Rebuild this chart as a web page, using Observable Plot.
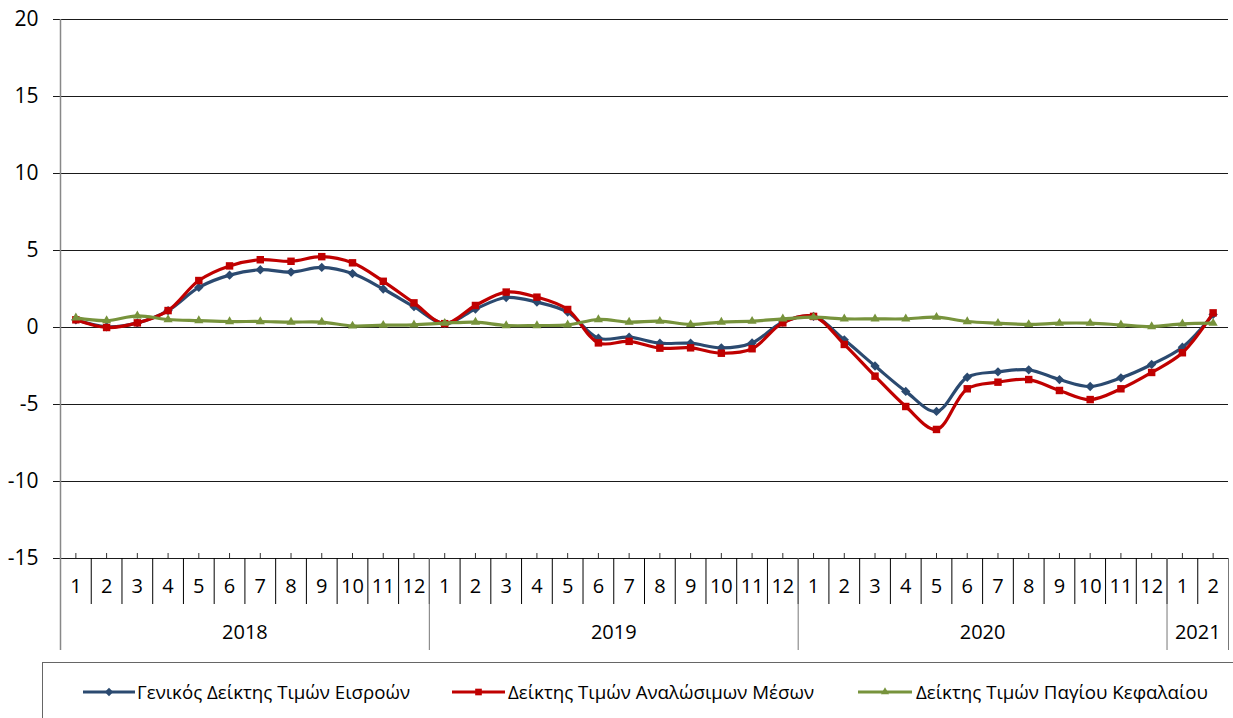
<!DOCTYPE html>
<html>
<head>
<meta charset="utf-8">
<script src="https://cdn.jsdelivr.net/npm/d3@7"></script>
<script src="https://cdn.jsdelivr.net/npm/@observablehq/plot@0.6"></script>
<style>
  body { margin: 0; background: white; font-family: "Open Sans", sans-serif; }
  #chart svg { display: block; }
  #legend { display: block; }
</style>
</head>
<body>
<div id="chart"></div>
<svg id="legend" width="1233" height="58"></svg>
<script>
// ---- data ----
const years = ["2018", "2019", "2020", "2021"];
const monthsPerYear = [12, 12, 12, 2];
const yTicks = [-15, -10, -5, 0, 5, 10, 15, 20];

const seriesNames = [
  "Γενικός Δείκτης Τιμών Εισροών",
  "Δείκτης Τιμών Αναλώσιμων Μέσων",
  "Δείκτης Τιμών Παγίου Κεφαλαίου"
];

const general = [
  0.5, 0.05, 0.3, 1.1, 2.6, 3.4, 3.75, 3.6, 3.9, 3.5, 2.5, 1.35,
  0.25, 1.2, 1.95, 1.65, 1.0, -0.7, -0.63, -1.02, -1.02, -1.32, -1.0, 0.35,
  0.72, -0.8, -2.5, -4.15, -5.45, -3.23, -2.88, -2.75, -3.38, -3.83, -3.27, -2.4,
  -1.28, 0.85
];
const consumables = [
  0.5, 0.0, 0.3, 1.1, 3.05, 4.0, 4.4, 4.3, 4.6, 4.2, 3.0, 1.6,
  0.25, 1.43, 2.3, 1.97, 1.17, -1.0, -0.9, -1.34, -1.32, -1.67, -1.38, 0.3,
  0.72, -1.1, -3.16, -5.13, -6.62, -3.98, -3.55, -3.38, -4.09, -4.68, -3.98, -2.92,
  -1.64, 0.95
];
const capital = [
  0.63, 0.45, 0.76, 0.52, 0.45, 0.39, 0.39, 0.35, 0.35, 0.1, 0.15, 0.17,
  0.28, 0.35, 0.13, 0.13, 0.17, 0.52, 0.35, 0.41, 0.2, 0.35, 0.41, 0.56,
  0.67, 0.56, 0.56, 0.56, 0.67, 0.39, 0.28, 0.2, 0.28, 0.28, 0.17, 0.06,
  0.24, 0.28
];

const colors = ["#2B4A70", "#C00000", "#77933C"];
const symbols = ["diamond2", "square", "triangle"];
const radii = [4.2, 4.2, 3.4];

// ---- derived tables ----
const rows = [];
const yearSpans = [];
years.forEach((yr, k) => {
  const start = rows.length;
  for (let m = 1; m <= monthsPerYear[k]; m++) {
    const i = rows.length;
    rows.push({i, month: String(m), year: yr, general: general[i], consumables: consumables[i], capital: capital[i]});
  }
  yearSpans.push({year: yr, first: start, last: rows.length - 1});
});
const idx = rows.map(d => d.i);
const monthBoundaries = d3.range(0, rows.length + 1).map(i => i - 0.5);
const yearBoundaries = [...yearSpans.map(s => s.first - 0.5), rows.length - 0.5];
const yearCenters = yearSpans.map(s => ({year: s.year, x: (s.first + s.last) / 2}));

const keys = ["general", "consumables", "capital"];
const seriesMarks = keys.flatMap((k, s) => [
  Plot.line(rows, {x: "i", y: k, stroke: colors[s], strokeWidth: 3.2, curve: "catmull-rom"}),
  Plot.dot(rows, {x: "i", y: k, symbol: symbols[s], r: radii[s], fill: colors[s], stroke: "none"})
]);

const chart = Plot.plot({
  width: 1233,
  height: 660,
  marginLeft: 60,
  marginRight: 5,
  marginTop: 19,
  marginBottom: 102,
  style: {fontFamily: "Open Sans", background: "white", color: "#000"},
  x: {domain: [-0.5, rows.length - 0.5], axis: null},
  y: {domain: [-15, 20]},
  marks: [
    Plot.ruleY(yTicks, {stroke: "#1a1a1a", strokeWidth: 1, insetLeft: -7}),
    Plot.ruleX(idx, {stroke: "#333", insetTop: 534}),
    Plot.ruleX(monthBoundaries, {stroke: "#000", insetTop: 539, insetBottom: -46}),
    Plot.ruleX(yearBoundaries, {stroke: "#777", insetTop: 539, insetBottom: -92}),
    Plot.ruleX([-0.5], {stroke: "#888", strokeWidth: 1.5, insetBottom: -92}),
    Plot.axisY(yTicks, {tickSize: 0, tickPadding: 22, fontSize: 21, label: null, tickFormat: d => String(d)}),
    Plot.text(rows, {x: "i", text: "month", frameAnchor: "bottom", dy: 34, fontSize: 20, fill: "#000"}),
    Plot.text(yearCenters, {x: "x", text: "year", frameAnchor: "bottom", dy: 80, fontSize: 20, fill: "#000"}),
    ...seriesMarks
  ]
});
document.getElementById("chart").appendChild(chart);

// ---- legend ----
const legend = d3.select("#legend");
legend.append("rect").attr("x", 42.5).attr("y", 2.5).attr("width", 1300).attr("height", 100)
  .attr("fill", "white").attr("stroke", "#666").attr("stroke-width", 1);
const items = [
  {x0: 83, x1: 135, tx: 137, tl: 273},
  {x0: 452, x1: 505, tx: 508, tl: 306},
  {x0: 858, x1: 912, tx: 916, tl: 292}
];
items.forEach((it, s) => {
  const g = legend.append("g");
  g.append("line").attr("x1", it.x0).attr("x2", it.x1).attr("y1", 32).attr("y2", 32)
    .attr("stroke", colors[s]).attr("stroke-width", 3);
  const sym = {diamond2: d3.symbolDiamond2, square: d3.symbolSquare, triangle: d3.symbolTriangle}[symbols[s]];
  g.append("path").attr("d", d3.symbol(sym, Math.PI * radii[s] * radii[s] * 0.8)())
    .attr("transform", `translate(${(it.x0 + it.x1) / 2},32)`).attr("fill", colors[s]);
  g.append("text").attr("x", it.tx).attr("y", 39).attr("font-size", 18)
    .attr("font-family", "Open Sans").attr("fill", "#000")
    .attr("textLength", it.tl).attr("lengthAdjust", "spacingAndGlyphs")
    .text(seriesNames[s]);
});
</script>
</body>
</html>
